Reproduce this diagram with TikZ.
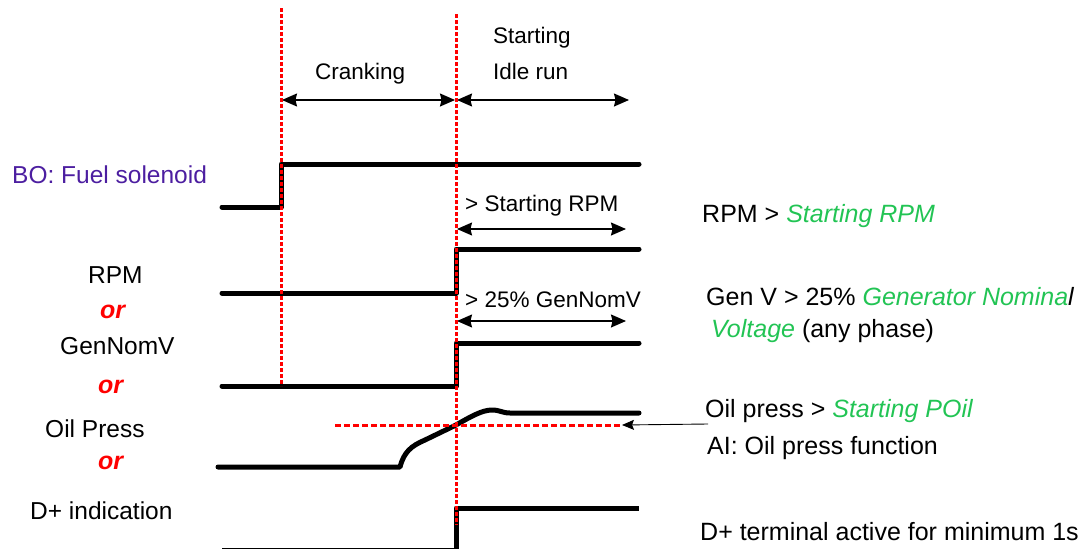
\documentclass[tikz,border=0pt]{standalone}
\usepackage{fontspec}
\setmainfont{Liberation Sans}
\usetikzlibrary{arrows.meta}
\definecolor{sigred}{RGB}{255,0,0}
\definecolor{boPurple}{RGB}{76,30,160}
\definecolor{paramGreen}{RGB}{34,196,84}
\begin{document}
\begin{tikzpicture}[x=1pt,y=-1pt,
  signal/.style={line width=5pt, line cap=round, line join=round},
  marker/.style={draw=sigred, line width=3pt, dash pattern=on 4pt off 2pt},
  hmarker/.style={draw=sigred, line width=3pt, dash pattern=on 6pt off 3pt},
  span/.style={line width=1.2pt, {Stealth[length=15pt,width=13pt,inset=1.5pt]}-{Stealth[length=15pt,width=13pt,inset=1.5pt]}},
  pointer/.style={line width=0.9pt, -{Stealth[length=12pt,width=10pt,inset=2pt]}},
  lbl/.style={anchor=base west, inner sep=0pt, font=\fontsize{24.5}{28}\selectfont},
  toplbl/.style={anchor=base west, inner sep=0pt, font=\fontsize{22.5}{26}\selectfont},
  rlbl/.style={anchor=base west, inner sep=0pt, font=\fontsize{25}{29}\selectfont},
  orlbl/.style={anchor=base west, inner sep=0pt, text=sigred, font=\fontsize{25}{29}\selectfont\bfseries\itshape}
]
\useasboundingbox (0,0) rectangle (1090,549);

% ---- phase labels and spans
\node[toplbl] (crank) at (315,79) {Cranking};
\node[toplbl] (start1) at (493,43) {Starting};
\node[toplbl] (start2) at (493,79) {Idle run};
\coordinate (m1top) at (281,8);
\coordinate (m1bot) at (281,386);
\coordinate (m2top) at (456,14);
\coordinate (m2bot) at (456,525);
\coordinate (cA) at (282,100);
\coordinate (cB) at (455,100);
\coordinate (iA) at (457,100);
\coordinate (iB) at (629,100);
\draw[span] (cA) -- (cB);
\draw[span] (iA) -- (iB);

% ---- left labels
\node[lbl, text=boPurple] (bo) at (12,183) {BO: Fuel solenoid};
\node[lbl] (rpm) at (88,283) {RPM};
\node[orlbl] (or1) at (100,318) {or};
\node[lbl] (gen) at (60,354) {GenNomV};
\node[orlbl] (or2) at (98,393) {or};
\node[lbl] (oil) at (45,437) {Oil Press};
\node[orlbl] (or3) at (98,469) {or};
\node[lbl] (dplus) at (30,519) {D+ indication};

% ---- signals
\draw[signal] (222,207) -- (281,207) -- (281,164) -- (639,164);
\draw[signal] (222,293) -- (456,293) -- (456,249) -- (639,249);
\draw[signal] (222,386) -- (456,386) -- (456,343) -- (639,343);
\draw[signal] (218,467) -- (400,467) .. controls (404,452) and (411,446) .. (425,440)
   -- (456,425) .. controls (470,417) and (482,410) .. (492,410)
   .. controls (500,410) and (502,413) .. (510,413) -- (639,413);
\draw[signal, line cap=butt] (222,550) -- (456,550) -- (456,508) -- (639,508);

% ---- threshold spans
\node[toplbl] (rpmthr) at (465,211) {> Starting RPM};
\coordinate (rA) at (457,229);
\coordinate (rB) at (626,229);
\draw[span] (rA) -- (rB);
\node[toplbl] (genthr) at (465,307) {> 25\% GenNomV};
\coordinate (gA) at (457,321);
\coordinate (gB) at (626,321);
\draw[span] (gA) -- (gB);

% ---- red markers
\draw[marker] (m1top) -- (m1bot);
\draw[marker] (m2top) -- (m2bot);
\coordinate (hA) at (335,425);
\coordinate (hB) at (622,425);
\draw[hmarker] (hA) -- (hB);

% ---- right descriptions
\node[rlbl] (rrpm) at (702,222) {RPM > \textcolor{paramGreen}{\itshape Starting RPM}};
\node[rlbl] (rgen1) at (706,305) {Gen V > 25\% \textcolor{paramGreen}{\itshape Generator Nomina}{\itshape l}};
\node[rlbl] (rgen2) at (711,337) {\textcolor{paramGreen}{\itshape Voltage} (any phase)};
\node[rlbl] (roil1) at (705,417) {Oil press > \textcolor{paramGreen}{\itshape Starting POil}};
\node[rlbl] (roil2) at (707,454) {AI: Oil press function};
\node[rlbl] (rdp) at (700,540) {D+ terminal active for minimum 1s};
\coordinate (pStart) at (708,424);
\draw[pointer] (pStart) -- (hB);
\end{tikzpicture}
\end{document}
